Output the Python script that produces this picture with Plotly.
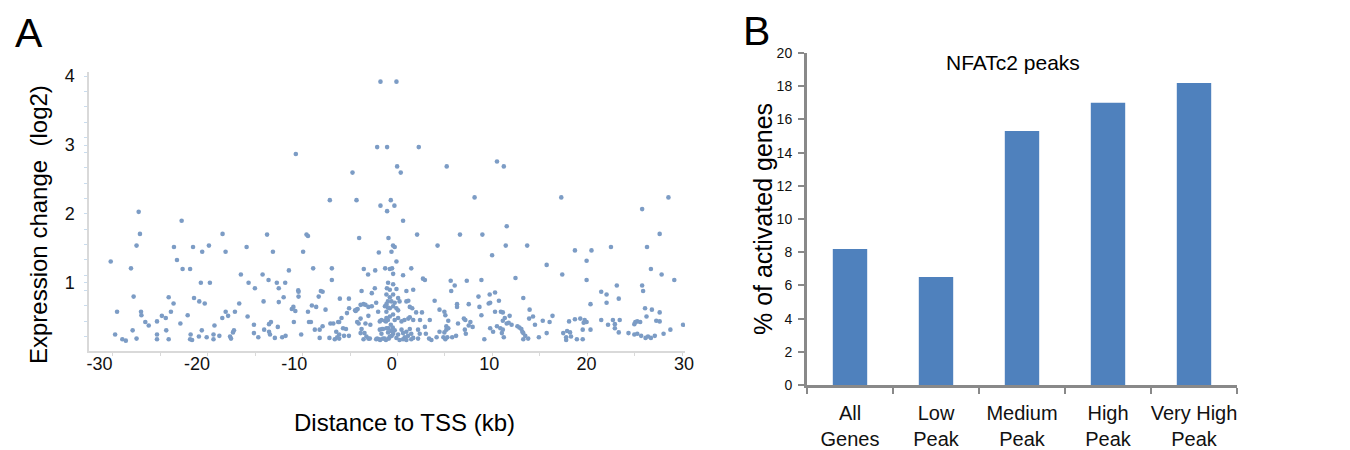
import plotly.graph_objects as go

# ---------------- Panel A data: (distance to TSS in kb, expression change log2) ----------------
high_points = [
    (-1.16, 3.92), (0.48, 3.92), (-1.5, 2.97), (-0.48, 2.97), (2.77, 2.97), (-9.85, 2.87),
    (10.8, 2.76), (0.55, 2.69), (5.64, 2.69), (11.5, 2.69), (-4.03, 2.60), (0.92, 2.60),
    (-6.36, 2.20), (-3.62, 2.20), (-0.1, 2.20), (8.5, 2.24), (17.4, 2.24), (28.4, 2.24),
    (-1.16, 2.12), (0.27, 2.12), (-0.48, 2.04), (-25.98, 2.03), (25.7, 2.07), (-21.57, 1.90),
    (1.16, 1.90), (11.8, 1.82), (-25.85, 1.71), (-17.37, 1.71), (-12.8, 1.70), (-8.75, 1.70),
    (-8.6, 1.68), (2.6, 1.70), (7.0, 1.70), (9.3, 1.70), (27.5, 1.71), (-3.35, 1.65),
    (-0.34, 1.65), (-26.2, 1.54), (-22.36, 1.52), (-20.4, 1.52), (-18.77, 1.54), (-14.9, 1.52),
    (0.13, 1.54), (0.3, 1.52), (4.7, 1.54), (11.7, 1.54), (13.9, 1.54), (22.5, 1.52),
    (26.2, 1.52), (-19.46, 1.45), (-17.06, 1.45), (-12.2, 1.45), (-9.1, 1.45), (-1.33, 1.44),
    (-0.03, 1.45), (18.8, 1.47), (20.5, 1.47), (10.3, 1.40), (-28.85, 1.31), (-22.05, 1.33),
    (0.48, 1.31), (20.0, 1.32), (15.9, 1.26), (-26.77, 1.21), (-21.47, 1.20), (-20.7, 1.20),
    (-10.56, 1.18), (-8.07, 1.21), (-6.15, 1.21), (-2.87, 1.20), (-0.68, 1.21), (-1.7, 1.18),
    (-0.2, 1.20), (0.03, 1.21), (2.0, 1.21), (26.6, 1.20), (-15.49, 1.12), (-13.26, 1.12),
    (-2.43, 1.12), (0.14, 1.13), (1.16, 1.11), (17.5, 1.12), (27.7, 1.12), (3.2, 1.06),
    (3.4, 1.04), (6.05, 1.03), (7.7, 1.03), (9.2, 1.04), (12.7, 1.07), (20.0, 1.04),
    (29.0, 1.04), (-19.6, 1.0), (-18.67, 1.0), (-14.7, 1.0), (-12.65, 1.04), (-11.8, 1.0),
    (-10.94, 1.0), (-6.15, 1.04), (-0.38, 1.0),
]

mid_points = [
    (0.14, 0.98), (6.46, 0.96), (23.1, 0.96), (25.7, 0.96), (-14.05, 0.92), (-11.6, 0.92),
    (-9.6, 0.89), (-9.57, 0.87), (-1.74, 0.92), (-0.5, 0.92), (-3.1, 0.88), (-2.05, 0.85),
    (-7.28, 0.88), (-7.1, 0.87), (-0.2, 0.90), (0.48, 0.91), (1.5, 0.88), (2.2, 0.90),
    (6.1, 0.88), (21.5, 0.87), (25.8, 0.88), (10.6, 0.86), (-26.5, 0.80), (-22.9, 0.79),
    (-20.3, 0.78), (-11.1, 0.79), (-9.57, 0.80), (-7.5, 0.80), (-4.4, 0.77), (-5.33, 0.77),
    (-0.55, 0.83), (-0.2, 0.79), (0.14, 0.83), (0.65, 0.78), (8.9, 0.80), (10.05, 0.83),
    (13.5, 0.78), (22.05, 0.83), (23.3, 0.77), (-19.76, 0.73), (-19.2, 0.70), (-22.4, 0.70),
    (-15.66, 0.70), (-13.16, 0.73), (-11.6, 0.72), (-8.2, 0.67), (-1.6, 0.71), (-0.4, 0.73),
    (-0.03, 0.73), (0.3, 0.71), (0.8, 0.73), (1.5, 0.73), (1.7, 0.74), (4.4, 0.74),
    (11.0, 0.74), (9.95, 0.70), (10.1, 0.71), (22.05, 0.71), (20.4, 0.69), (6.7, 0.69),
    (7.9, 0.69), (-3.2, 0.68), (-2.9, 0.69), (-2.7, 0.68), (-2.4, 0.65), (-2.05, 0.66),
    (-0.7, 0.66), (-0.55, 0.69), (-0.4, 0.64), (-0.2, 0.63), (0.14, 0.66), (0.48, 0.63),
    (0.65, 0.60), (1.85, 0.65), (2.1, 0.63), (6.7, 0.65), (9.0, 0.65), (-10.26, 0.62),
    (-10.1, 0.65), (-9.9, 0.59), (-7.76, 0.65), (-6.8, 0.61), (-4.38, 0.63), (-3.76, 0.60),
    (-3.6, 0.61), (-3.5, 0.62), (-3.7, 0.59), (-4.6, 0.56), (-8.6, 0.58), (26.0, 0.63),
    (26.7, 0.61), (14.15, 0.61), (4.9, 0.61),
]

low_left_points = [
    (-28.2, 0.58), (-25.74, 0.58), (-25.7, 0.53), (-22.67, 0.58), (-17.05, 0.58), (-16.1, 0.58),
    (-16.8, 0.52), (-17.4, 0.49), (-23.6, 0.52), (-23.2, 0.49), (-24.1, 0.44), (-25.3, 0.43),
    (-24.95, 0.38), (-20.95, 0.53), (-21.7, 0.41), (-23.15, 0.31), (-26.6, 0.31), (-18.2, 0.38),
    (-19.5, 0.31), (-16.2, 0.31), (-16.3, 0.28), (-28.4, 0.25), (-27.66, 0.18), (-27.3, 0.16),
    (-26.2, 0.19), (-24.1, 0.25), (-24.1, 0.18), (-22.9, 0.18), (-20.65, 0.25), (-20.7, 0.18),
    (-20.5, 0.17), (-19.8, 0.22), (-19.0, 0.21), (-18.3, 0.25), (-18.3, 0.18), (-17.7, 0.23),
    (-16.6, 0.22), (-16.5, 0.19), (-14.8, 0.51), (-14.15, 0.39), (-13.1, 0.32), (-12.6, 0.40),
    (-12.4, 0.43), (-12.6, 0.29), (-12.5, 0.25), (-11.7, 0.36), (-14.15, 0.27), (-13.7, 0.21),
    (-12.0, 0.20), (-11.25, 0.21), (-10.9, 0.23), (-10.05, 0.43), (-9.3, 0.25), (-8.5, 0.43),
    (-8.3, 0.43), (-7.9, 0.32), (-7.4, 0.20), (-7.4, 0.32), (-7.1, 0.37), (-6.4, 0.20),
    (-6.3, 0.41), (-6.0, 0.41),
]

low_center_points = [
    (-5.16, 0.49), (-5.4, 0.43), (-5.5, 0.43), (-5.7, 0.29), (-5.4, 0.25), (-5.85, 0.18),
    (-5.6, 0.21), (-5.4, 0.19), (-5.0, 0.34), (-4.7, 0.33), (-4.9, 0.23), (-4.4, 0.23),
    (-3.55, 0.43), (-3.4, 0.41), (-3.2, 0.48), (-3.1, 0.33), (-3.2, 0.27), (-2.9, 0.18),
    (-2.7, 0.41), (-2.4, 0.52), (-2.2, 0.39), (-2.4, 0.19), (-2.8, 0.27), (-2.6, 0.22),
    (-2.25, 0.19), (-1.5, 0.19), (-1.26, 0.18), (-1.0, 0.33), (-0.6, 0.44), (-0.4, 0.46),
    (-0.35, 0.34), (-0.1, 0.39), (-0.05, 0.30), (0.0, 0.23), (0.1, 0.35), (-0.9, 0.19),
    (-0.6, 0.17), (-0.3, 0.19), (-1.4, 0.58), (-0.55, 0.58), (2.5, 0.57), (3.1, 0.57),
    (5.4, 0.58), (-1.23, 0.44), (-1.06, 0.46), (-0.7, 0.45), (-0.55, 0.49), (-0.2, 0.51),
    (0.13, 0.54), (0.3, 0.46), (0.65, 0.49), (1.0, 0.44), (1.3, 0.46), (1.7, 0.48),
    (1.85, 0.50), (2.2, 0.46), (2.9, 0.46), (3.9, 0.46), (-1.23, 0.32), (-0.9, 0.33),
    (-1.06, 0.26), (-0.55, 0.34), (-0.38, 0.28), (-0.72, 0.19), (-0.2, 0.22), (0.14, 0.26),
    (0.3, 0.31), (0.48, 0.20), (0.65, 0.25), (1.0, 0.32), (1.16, 0.27), (1.33, 0.21),
    (1.5, 0.29), (1.67, 0.23), (1.85, 0.33), (2.0, 0.26), (2.2, 0.20), (2.7, 0.32),
    (2.87, 0.26), (2.7, 0.19), (3.4, 0.36), (3.5, 0.26), (3.83, 0.19), (4.07, 0.17),
    (4.6, 0.21), (4.9, 0.29), (5.3, 0.21), (5.6, 0.32), (-1.6, 0.18), (-1.2, 0.17),
    (0.8, 0.17), (1.16, 0.18), (1.5, 0.17), (2.0, 0.18),
]

low_right_points = [
    (5.5, 0.53), (5.8, 0.45), (6.8, 0.41), (7.4, 0.48), (7.55, 0.46), (8.07, 0.43),
    (7.9, 0.38), (8.3, 0.36), (7.5, 0.32), (7.6, 0.26), (9.2, 0.53), (10.6, 0.58),
    (11.2, 0.58), (11.4, 0.57), (11.4, 0.45), (11.6, 0.49), (11.8, 0.41), (12.0, 0.42),
    (12.3, 0.39), (12.1, 0.52), (10.1, 0.34), (10.4, 0.29), (10.8, 0.37), (11.15, 0.34),
    (11.4, 0.32), (11.3, 0.27), (11.5, 0.21), (9.5, 0.18), (12.9, 0.37), (13.1, 0.35),
    (13.3, 0.33), (13.4, 0.29), (13.5, 0.27), (13.7, 0.23), (13.5, 0.18), (14.0, 0.19),
    (14.1, 0.48), (14.5, 0.51), (14.7, 0.39), (15.1, 0.21), (15.5, 0.45), (15.9, 0.27),
    (16.2, 0.43), (16.5, 0.52), (17.6, 0.27), (5.4, 0.28), (5.6, 0.37), (5.8, 0.34),
    (5.5, 0.18), (5.7, 0.21), (6.2, 0.21), (6.6, 0.23), (18.2, 0.44), (18.8, 0.47),
    (19.35, 0.48), (19.8, 0.46), (20.0, 0.43), (19.7, 0.42), (21.5, 0.46), (22.7, 0.46),
    (23.4, 0.46), (22.2, 0.39), (22.9, 0.40), (22.9, 0.34), (19.6, 0.32), (20.4, 0.32),
    (23.3, 0.28), (25.0, 0.43), (25.2, 0.44), (25.5, 0.43), (24.9, 0.40), (27.15, 0.45),
    (27.5, 0.44), (28.6, 0.32), (29.9, 0.39), (27.9, 0.26), (24.3, 0.27), (24.9, 0.25),
    (25.2, 0.26), (25.6, 0.23), (26.05, 0.20), (26.3, 0.22), (26.6, 0.20), (27.0, 0.23),
    (18.0, 0.30), (18.3, 0.28), (18.4, 0.22), (17.9, 0.21), (17.9, 0.17), (19.0, 0.18),
    (19.6, 0.18), (26.15, 0.51), (27.5, 0.57),
]

x_tick_vals = [-30, -20, -10, 0, 10, 20, 30]
x_tick_text = ["-30", "-20", "-10", "0", "10", "20", "30"]
y_tick_vals = [1, 2, 3, 4]

# ---------------- Panel B data ----------------
categories = ["All<br>Genes", "Low<br>Peak", "Medium<br>Peak", "High<br>Peak", "Very High<br>Peak"]
pct_activated = [8.2, 6.5, 15.3, 17.0, 18.2]
pct_ticks = list(range(0, 21, 2))

all_points = high_points + mid_points + low_left_points + low_center_points + low_right_points
dist_kb = [p[0] for p in all_points]
expr_log2 = [p[1] for p in all_points]

W, H = 1350, 450
OFF = 8  # the page body adds an 8px margin; compensate so the picture lines up


def px(x):
    return (x - OFF) / W


def py(y):
    return 1 - (y - OFF) / H


FONT = "Liberation Sans, Arial, sans-serif"
NARROW = "Liberation Sans Narrow, Arial Narrow, Liberation Sans, Arial, sans-serif"

fig = go.Figure()
fig.add_trace(go.Scatter(
    x=dist_kb, y=expr_log2, mode="markers", xaxis="x", yaxis="y",
    marker=dict(color="#7c9cc5", size=4.6, line=dict(width=0)),
    showlegend=False, hoverinfo="x+y",
))
fig.add_trace(go.Bar(
    x=categories, y=pct_activated, xaxis="x2", yaxis="y2",
    marker=dict(color="#4f81bd", line=dict(width=0)),
    showlegend=False,
))

fig.update_layout(
    template="none",
    width=W, height=H,
    margin=dict(l=0, r=0, t=0, b=0, autoexpand=False),
    paper_bgcolor="white", plot_bgcolor="white",
    bargap=0.6,
    font=dict(family=FONT, color="#000000"),
    xaxis=dict(
        domain=[px(89), px(685)], anchor="y", automargin=False,
        range=[-31.08, 30.1], tickmode="array", tickvals=x_tick_vals, ticktext=x_tick_text,
        ticks="", showgrid=False, zeroline=False,
        showline=True, linecolor="#d9d9d9", linewidth=1.5,
        tickfont=dict(size=18, family=FONT, color="#111111"),
        ticklabelstandoff=-4,
        minor=dict(tickmode="linear", tick0=0.59, dtick=4.87, ticks="outside",
                   ticklen=3, tickcolor="#d9d9d9", tickwidth=1, showgrid=False),
    ),
    yaxis=dict(
        domain=[py(351), py(72)], anchor="x", automargin=False,
        range=[0.01, 4.06], tickmode="array", tickvals=y_tick_vals,
        ticks="outside", ticklen=3, tickcolor="#c9dcee", tickwidth=1,
        showgrid=False, zeroline=False,
        showline=True, linecolor="#d9d9d9", linewidth=1.5,
        tickfont=dict(size=18, family=FONT, color="#111111"),
        ticklabelstandoff=6,
        minor=dict(tickmode="linear", tick0=0, dtick=2 / 9, ticks="outside",
                   ticklen=3, tickcolor="#c9dcee", tickwidth=1, showgrid=False),
    ),
    xaxis2=dict(
        domain=[px(807), px(1237)], anchor="y2", type="category", automargin=False,
        range=[-0.5, 4.5], tickson="boundaries", tickangle=0,
        ticks="outside", ticklen=6, tickwidth=2, tickcolor="#898989",
        showgrid=False, zeroline=False,
        showline=True, linecolor="#898989", linewidth=3,
        tickfont=dict(size=20, family=NARROW, color="#111111"),
        ticklabelstandoff=8,
    ),
    yaxis2=dict(
        domain=[py(385), py(53)], anchor="x2", automargin=False,
        range=[0, 20], tickmode="array", tickvals=pct_ticks,
        ticks="outside", ticklen=6, tickwidth=2, tickcolor="#898989",
        showgrid=False, zeroline=False,
        showline=True, linecolor="#898989", linewidth=3,
        tickfont=dict(size=14, family=NARROW, color="#111111"),
        ticklabelstandoff=3,
    ),
)

annotations = [
    dict(text="A", x=px(29), y=py(33), font=dict(size=41, family=FONT)),
    dict(text="B", x=px(757), y=py(31), font=dict(size=41, family=FONT)),
    dict(text="Expression change  (log2)", x=px(38), y=py(225), textangle=-90,
         font=dict(size=24, family=FONT)),
    dict(text="Distance to TSS (kb)", x=px(404), y=py(422), font=dict(size=24, family=FONT)),
    dict(text="NFATc2 peaks", x=px(1013), y=py(62), font=dict(size=21, family=FONT)),
    dict(text="% of activated genes", x=px(763), y=py(219), textangle=-90,
         font=dict(size=25, family=FONT)),
]
for a in annotations:
    a.update(xref="paper", yref="paper", showarrow=False, xanchor="center", yanchor="middle")
fig.update_layout(annotations=annotations)

fig.write_html("out.html")
